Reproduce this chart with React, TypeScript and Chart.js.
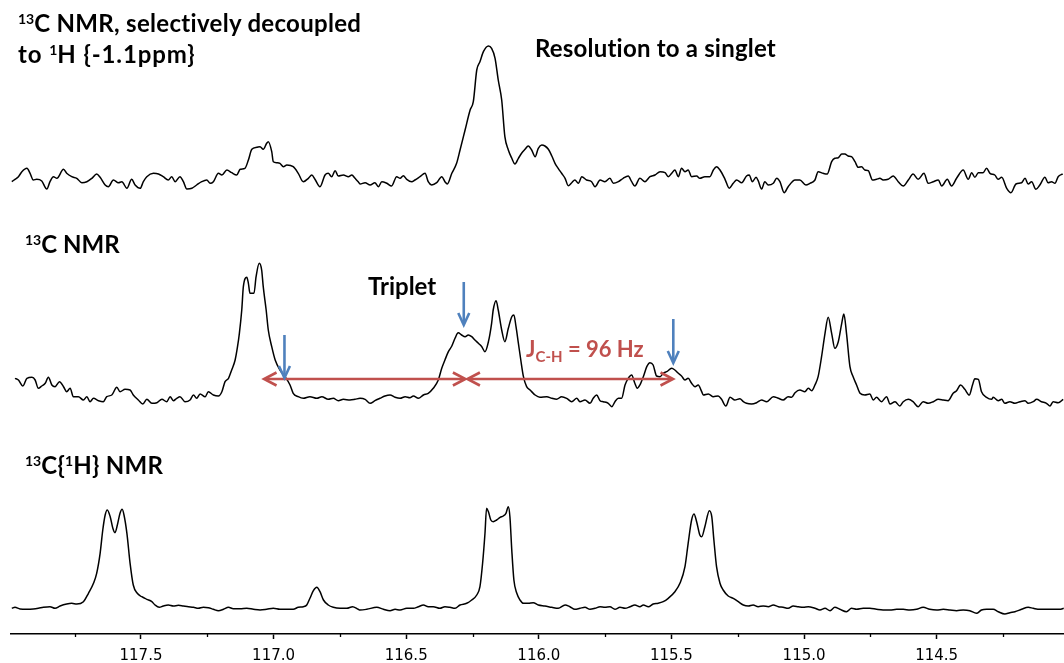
import React, { useEffect, useRef } from 'react';
import { Chart, registerables } from 'chart.js';

Chart.register(...registerables);

// ---- axis (chemical shift, ppm) ----
const X_MIN = 114.02;
const X_MAX = 117.99;
const MAJOR_TICKS = [117.5, 117.0, 116.5, 116.0, 115.5, 115.0, 114.5];
const MINOR_TICKS = [117.75, 117.25, 116.75, 116.25, 115.75, 115.25, 114.75, 114.25];

// ---- spectra: [ppm, intensity a.u.] ----
const SELECTIVE_DECOUPLED: number[][] = [
  [117.987,0.3],[117.975,2.7],[117.962,5.3],[117.949,10.3],[117.930,13.7],[117.918,8.7],[117.906,2],[117.893,2.7],[117.874,1],[117.855,-7],[117.843,0.3],[117.830,5.3],[117.817,3.7],[117.792,12.7],[117.780,8.7],[117.761,5.3],[117.742,3.7],[117.723,-0.7],[117.704,0.3],[117.685,3.7],[117.667,8],[117.654,4.7],[117.635,-3],[117.623,-4.7],[117.604,2],[117.585,-0.7],[117.572,0.3],[117.553,-6.3],[117.535,2.7],[117.522,-3],[117.503,-6.3],[117.491,0.3],[117.478,5.3],[117.453,8.7],[117.434,8],[117.416,5.3],[117.397,2],[117.384,5.3],[117.371,0.3],[117.353,5.3],[117.340,0.3],[117.327,-7],[117.308,-6.3],[117.290,-3],[117.271,0.3],[117.252,2],[117.239,-1.3],[117.227,0.3],[117.208,8.7],[117.195,7],[117.176,12],[117.158,9.3],[117.139,7],[117.126,12.7],[117.108,13.7],[117.095,22],[117.082,32.7],[117.063,34.7],[117.051,35.3],[117.039,32.7],[117.026,38.7],[117.020,40.3],[117.007,30.3],[117.001,20.3],[116.988,19.3],[116.976,18.7],[116.963,15.3],[116.950,17],[116.926,15.3],[116.907,8.7],[116.888,0.3],[116.869,3.7],[116.856,7],[116.844,2.7],[116.825,-4.7],[116.806,7],[116.794,8.7],[116.781,5.3],[116.768,11.3],[116.756,6],[116.737,7],[116.718,5.3],[116.705,7],[116.693,3.7],[116.681,0.3],
  [116.674,-2],[116.655,-0.7],[116.636,-3],[116.618,-0.7],[116.605,-4.7],[116.592,0.3],[116.573,-1.3],[116.555,-4],[116.536,5.3],[116.523,3.7],[116.511,6.3],[116.498,2.7],[116.479,0.3],[116.467,2],[116.448,5.3],[116.429,8.7],[116.417,0.3],[116.404,-3],[116.385,-0.7],[116.366,5.3],[116.354,0.3],[116.345,-2],[116.328,8.7],[116.310,18.7],[116.297,32],[116.278,52],[116.259,72],[116.247,80.3],[116.234,112],[116.222,120.3],[116.209,130.3],[116.190,136],[116.178,133.7],[116.165,123.7],[116.153,102],[116.140,82],[116.128,45.3],[116.115,32],[116.102,23.7],[116.090,18],[116.077,23.7],[116.065,28.7],[116.052,32.7],[116.040,36],[116.027,32],[116.014,25.3],[116.002,33.7],[115.989,37],[115.977,36],[115.964,32.7],[115.951,26],[115.939,18.7],[115.927,13.7],[115.914,8.7],[115.901,3.7],[115.889,-3.7],[115.876,-0.7],[115.864,2],[115.851,-1.3],[115.838,5.3],[115.820,2],[115.801,0.3],[115.788,-4.7],[115.769,2],[115.751,0.3],[115.732,3.7],[115.719,-1.3],[115.700,0.3],[115.682,3.7],[115.663,6],[115.650,0.3],[115.638,-4],[115.619,3.7],[115.600,0.3],[115.581,5.3],[115.562,7],[115.543,10.3],[115.524,9.3],[115.512,5.3],[115.499,8.7],[115.487,12],[115.474,5.3],[115.462,13.7],[115.449,10.3],[115.437,12],[115.424,5.3],[115.405,6],[115.393,3.7],[115.374,5.3],[115.355,5.3],[115.342,12],[115.330,15.3],
  [115.317,12],[115.298,2.7],[115.282,-6.3],[115.267,-1.3],[115.254,2],[115.235,-0.7],[115.217,6],[115.207,7],[115.195,0.3],[115.181,4.7],[115.173,1.3],[115.160,-7],[115.148,0.3],[115.135,-3],[115.116,-1.3],[115.103,3.7],[115.091,0.3],[115.075,-10.7],[115.060,-4.7],[115.034,2],[115.016,2],[114.993,-3],[114.978,-1.3],[114.959,2],[114.947,10.3],[114.928,8.7],[114.913,8],[114.896,20.3],[114.884,23.7],[114.871,24.3],[114.858,28],[114.846,28],[114.834,26],[114.821,25.3],[114.808,20.3],[114.796,14.7],[114.783,15.3],[114.771,12],[114.758,11.3],[114.742,2],[114.727,2.7],[114.714,3.7],[114.702,2],[114.683,2.7],[114.664,6],[114.645,0.3],[114.626,-4],[114.607,2],[114.589,8],[114.570,2.7],[114.548,8.7],[114.532,-1.3],[114.513,0.3],[114.494,2],[114.481,-4],[114.460,2.7],[114.444,-4],[114.425,3.7],[114.400,12],[114.381,2.7],[114.368,9.3],[114.356,4.7],[114.343,9.3],[114.325,9.3],[114.312,13.7],[114.299,8.7],[114.281,7],[114.268,2.7],[114.255,4.7],[114.236,-6.3],[114.220,-10.7],[114.201,-2],[114.180,-0.7],[114.167,3.7],[114.155,-2],[114.142,0.3],[114.126,-7.3],[114.111,-3],[114.092,4.7],[114.080,-0.7],[114.067,0.3],[114.054,-1.3],[114.042,5.3],[114.025,8],
];

const COUPLED: number[][] = [
  [117.975,19.7],[117.962,18],[117.945,12],[117.930,19.7],[117.911,20.7],[117.899,18],[117.887,9.7],[117.874,12],[117.861,14.7],[117.849,20.7],[117.836,13],[117.824,11.3],[117.807,16.3],[117.792,11.3],[117.780,6.3],[117.767,9.7],[117.755,1.3],[117.736,1.3],[117.717,-2],[117.704,1.3],[117.692,-3.7],[117.679,-0.3],[117.660,-2.7],[117.642,-3.7],[117.629,1.3],[117.610,3],[117.591,10.7],[117.579,6.3],[117.560,8.7],[117.541,8],[117.529,3],[117.510,-2],[117.493,-6],[117.478,-1.3],[117.459,-5.3],[117.440,-4.7],[117.421,-1.3],[117.403,-3.7],[117.390,1.3],[117.378,-2.7],[117.365,-0.3],[117.353,1.3],[117.334,-3.7],[117.315,-2],[117.302,3],[117.290,-0.3],[117.277,4],[117.258,1.3],[117.246,6.3],[117.227,3],[117.208,2],[117.195,6.3],[117.183,16.3],[117.170,19.7],[117.158,28],[117.145,38],[117.136,51.3],[117.129,64.7],[117.120,88],[117.114,111.3],[117.101,120.7],[117.095,114.7],[117.089,104.7],[117.074,104.7],[117.066,121.3],[117.054,134.7],[117.045,128],[117.039,111.3],[117.028,88],[117.020,68],[117.007,51.3],[116.994,38],[116.976,28],[116.957,21.3],[116.938,13],[116.926,4.7],[116.907,1.3],[116.888,-0.3],[116.863,1.3],[116.837,-0.3],[116.818,1.3],[116.794,-1.3],[116.775,-0.3],[116.756,-2.7],[116.737,-1.3],[116.712,-2],[116.693,-1.3],
  [116.674,-0.3],[116.655,-1.3],[116.636,-5.3],[116.618,-2.7],[116.599,-0.3],[116.580,2],[116.561,3],[116.542,0.7],[116.523,-0.3],[116.504,1.3],[116.486,0.3],[116.473,2],[116.454,-0.3],[116.435,3],[116.417,4.7],[116.398,9.7],[116.379,18],[116.366,29.7],[116.354,38],[116.341,46.3],[116.328,52],[116.316,59.7],[116.304,65.3],[116.291,63],[116.278,61.3],[116.266,63],[116.253,61.3],[116.241,58],[116.228,54.7],[116.215,51.3],[116.203,46.3],[116.190,56.3],[116.178,74.7],[116.172,88],[116.161,97.3],[116.153,88],[116.140,68],[116.128,56.3],[116.115,69.7],[116.102,81.3],[116.094,83],[116.086,71.3],[116.077,54.7],[116.068,38],[116.058,21.3],[116.046,11.3],[116.033,8],[116.014,3],[115.996,0.7],[115.970,1.3],[115.951,-0.3],[115.933,-1.3],[115.914,1.3],[115.895,-0.3],[115.876,-3.7],[115.857,-0.3],[115.845,-3.7],[115.826,-2],[115.807,-5.3],[115.795,-0.3],[115.782,3],[115.769,-2.7],[115.757,-3.7],[115.738,-5.3],[115.725,-8.7],[115.713,-3.7],[115.700,-0.3],[115.688,-0.3],[115.675,13],[115.663,19.7],[115.650,23],[115.638,14.7],[115.629,9.7],[115.619,13],[115.606,21.3],[115.593,31.3],[115.581,35.3],[115.569,33],[115.556,22],[115.543,21.3],[115.531,24.7],[115.518,26.3],[115.499,29.7],[115.487,28],[115.474,24.7],[115.462,22],[115.449,18],[115.437,19.7],[115.424,14.7],[115.411,11.3],[115.399,13],[115.386,6.3],
  [115.380,3],[115.361,4],[115.342,1.3],[115.324,2],[115.311,-1.3],[115.295,-8],[115.279,0.7],[115.261,-2],[115.242,-0.7],[115.229,-3.7],[115.217,-5.3],[115.198,-6],[115.179,-4.7],[115.160,-2],[115.141,-3.7],[115.116,1.3],[115.097,-0.3],[115.079,-2],[115.060,1.3],[115.047,0.7],[115.034,5.3],[115.016,8],[114.997,6.3],[114.984,9.7],[114.971,7.3],[114.959,13],[114.947,21.3],[114.934,41.3],[114.921,64.7],[114.909,80.7],[114.896,64.7],[114.884,49.7],[114.871,56.3],[114.858,74.7],[114.850,84],[114.840,64.7],[114.827,31.3],[114.815,21.3],[114.802,13],[114.789,4.7],[114.771,3],[114.752,4],[114.739,-2],[114.727,0.7],[114.708,-3.7],[114.689,1.3],[114.676,-6],[114.657,-3.7],[114.639,-8],[114.626,-3.7],[114.607,-1.3],[114.589,-3.7],[114.570,-8.7],[114.551,-3.7],[114.532,-5.3],[114.513,-3.7],[114.494,-1.3],[114.475,-2],[114.457,-2.7],[114.438,4.7],[114.425,7.3],[114.410,13],[114.394,8.7],[114.377,3],[114.365,13],[114.356,19.3],[114.343,18.7],[114.331,6.3],[114.312,0.7],[114.293,-1.3],[114.287,0.7],[114.268,-2.7],[114.255,-1.3],[114.243,-5.3],[114.224,-3.7],[114.205,-5.3],[114.186,-3.7],[114.167,-2.7],[114.155,-5.3],[114.136,-3.7],[114.123,-1.3],[114.105,-3.7],[114.086,-5.3],[114.073,-8],[114.061,-3.7],[114.042,-4.7],[114.023,-1.3],
];

const PROTON_DECOUPLED: number[][] = [
  [117.987,0.7],[117.975,1.7],[117.956,0],[117.930,-0.3],[117.906,0],[117.887,0.7],[117.868,1.7],[117.843,2.3],[117.824,0.7],[117.805,3],[117.780,5],[117.761,5.7],[117.742,5],[117.717,7.3],[117.698,15.7],[117.679,25.7],[117.667,35.7],[117.654,55.7],[117.644,79],[117.635,94],[117.627,99],[117.616,92.3],[117.606,80.7],[117.598,76.3],[117.589,84],[117.579,95.7],[117.571,99.7],[117.564,94],[117.553,75.7],[117.541,45.7],[117.529,24],[117.514,15.7],[117.497,12.3],[117.478,9.7],[117.459,7.3],[117.447,4],[117.431,1.7],[117.416,3],[117.397,4],[117.378,3],[117.359,3.7],[117.340,3],[117.321,2.3],[117.302,1.7],[117.284,0.7],[117.265,1.7],[117.246,1.3],[117.227,-0.3],[117.208,-1.7],[117.189,-0.3],[117.170,1.7],[117.152,0.3],[117.126,0.3],[117.101,0.7],[117.076,-0.3],[117.051,-1],[117.026,-0.3],[117.001,0.7],[116.976,-0.3],[116.950,-0.3],[116.926,-0.3],[116.907,1.7],[116.888,2.3],[116.875,4],[116.863,10.7],[116.850,18.3],[116.837,21.7],[116.825,17.3],[116.812,9],[116.794,4],[116.775,1.7],[116.749,0.7],[116.724,0.7],[116.702,2.3],[116.681,-0.3],
  [116.674,-1],[116.649,-0.3],[116.611,1.7],[116.586,-0.3],[116.561,-1.7],[116.542,-0.3],[116.523,-1],[116.498,0.7],[116.473,0.7],[116.454,2.3],[116.435,4],[116.417,2.3],[116.398,2.3],[116.373,0.7],[116.354,2.3],[116.335,1.7],[116.316,0.7],[116.297,4],[116.272,5.7],[116.253,9],[116.234,14],[116.222,22.3],[116.212,45.7],[116.203,75.7],[116.197,100.7],[116.190,97.3],[116.181,89],[116.172,87.3],[116.159,89],[116.146,91.7],[116.134,93],[116.124,95.7],[116.115,102.3],[116.109,92.3],[116.102,59],[116.094,29],[116.083,15.7],[116.071,9],[116.058,5.7],[116.040,5.7],[116.021,6.3],[116.002,4],[115.977,3],[115.951,1.7],[115.927,0.7],[115.901,4],[115.883,2.3],[115.864,-0.3],[115.845,0.7],[115.826,1.7],[115.807,-0.3],[115.788,0.7],[115.769,2.3],[115.751,1.7],[115.732,2.3],[115.713,-0.3],[115.694,1.7],[115.675,0.7],[115.656,2.3],[115.638,4],[115.619,2.3],[115.606,4],[115.587,2.3],[115.569,5],[115.550,5.7],[115.531,7.3],[115.512,10.7],[115.487,17.3],[115.468,25.7],[115.449,42.3],[115.437,65.7],[115.424,89],[115.415,95],[115.405,87.3],[115.393,74],[115.386,72.3],[115.374,82.3],[115.357,98.3],[115.348,92.3],[115.340,69],[115.330,42.3],[115.317,25.7],
  [115.305,19],[115.286,13],[115.267,10.7],[115.248,7.3],[115.229,4],[115.210,3],[115.192,4],[115.173,2.3],[115.154,3],[115.135,2.3],[115.116,4],[115.097,2.3],[115.079,1.7],[115.060,0.7],[115.041,3],[115.022,2.3],[115.003,1.7],[114.984,2.3],[114.959,0.7],[114.940,-1],[114.921,0.7],[114.902,-1.7],[114.884,1.7],[114.865,-0.3],[114.840,-2.7],[114.821,0.7],[114.802,-0.3],[114.777,0.7],[114.752,0.7],[114.727,-0.3],[114.702,-1],[114.676,-1],[114.651,-0.3],[114.626,-0.3],[114.601,-1],[114.576,-0.3],[114.551,1.7],[114.526,-0.3],[114.500,-1],[114.475,-0.3],[114.450,-1],[114.425,-1.7],[114.400,-1],[114.375,-1.7],[114.350,-4.3],[114.331,-1],[114.312,-0.3],[114.287,-0.3],[114.268,-2.7],[114.243,-5],[114.224,-3.7],[114.205,-2.7],[114.180,-0.3],[114.155,1.7],[114.136,0.7],[114.111,-0.3],[114.086,-0.3],[114.061,-0.3],[114.036,-0.3],[114.021,0.7],
];

// ---- annotations (ppm / stack units) ----
const TRIPLET_LINES = [117.036, 116.273, 115.494];
const J_LEVEL = 255;
const BLUE_ARROWS = [
  { ppm: 116.959, from: 299, to: 256 },
  { ppm: 116.283, from: 352, to: 309 },
  { ppm: 115.493, from: 315, to: 271 },
];

const Y_MAX = 634;
const OFFSETS = { top: 452, middle: 236, bottom: 25 };

const RED = '#C0504D';
const BLUE = '#4F81BD';

const annotationPlugin = {
  id: 'nmrAnnotations',
  afterDraw(chart: any) {
    const { ctx, chartArea } = chart;
    const xs = chart.scales.x;
    const ys = chart.scales.y;
    ctx.save();
    // minor ticks
    ctx.strokeStyle = '#000';
    ctx.lineWidth = 1.3;
    for (const v of MINOR_TICKS) {
      const px = Math.round(xs.getPixelForValue(v)) + 0.5;
      ctx.beginPath();
      ctx.moveTo(px, chartArea.bottom);
      ctx.lineTo(px, chartArea.bottom + 3);
      ctx.stroke();
    }
    // red double-headed arrows
    ctx.strokeStyle = RED;
    ctx.lineWidth = 2.6;
    ctx.lineJoin = 'miter';
    const yy = ys.getPixelForValue(J_LEVEL);
    const heads = (tip: number, dir: number) => {
      ctx.beginPath();
      ctx.moveTo(tip + dir * 12.5, yy - 6.5);
      ctx.lineTo(tip, yy);
      ctx.lineTo(tip + dir * 12.5, yy + 6.5);
      ctx.stroke();
    };
    for (let i = 0; i < TRIPLET_LINES.length - 1; i++) {
      const a = xs.getPixelForValue(TRIPLET_LINES[i]) + (i === 0 ? 0 : 1);
      const b = xs.getPixelForValue(TRIPLET_LINES[i + 1]) - (i === TRIPLET_LINES.length - 2 ? 0 : 1);
      ctx.beginPath();
      ctx.moveTo(a + 2, yy);
      ctx.lineTo(b - 2, yy);
      ctx.stroke();
      heads(a, 1);
      heads(b, -1);
    }
    // blue down arrows
    ctx.strokeStyle = BLUE;
    ctx.lineWidth = 2.6;
    for (const arr of BLUE_ARROWS) {
      const px = xs.getPixelForValue(arr.ppm);
      const y0 = ys.getPixelForValue(arr.from);
      const y1 = ys.getPixelForValue(arr.to);
      ctx.beginPath();
      ctx.moveTo(px, y0);
      ctx.lineTo(px, y1 - 2);
      ctx.stroke();
      ctx.beginPath();
      ctx.moveTo(px - 5.5, y1 - 12);
      ctx.lineTo(px, y1);
      ctx.lineTo(px + 5.5, y1 - 12);
      ctx.stroke();
    }
    ctx.restore();
  },
};

const LABEL_FONT = 'Lato, "Open Sans", sans-serif';

function Label(props: { left: number; baseline: number; size?: number; color?: string; spacing?: number; children: any }) {
  const size = props.size ?? 24;
  return (
    <div
      style={{
        position: 'absolute',
        left: props.left,
        top: props.baseline - size * 0.887,
        fontFamily: LABEL_FONT,
        fontWeight: 700,
        fontSize: size,
        lineHeight: `${size}px`,
        letterSpacing: props.spacing ? `${props.spacing}px` : undefined,
        color: props.color ?? '#000',
        whiteSpace: 'nowrap',
      }}
    >
      {props.children}
    </div>
  );
}

const Sup = ({ children }: { children: any }) => (
  <span style={{ fontSize: 14, position: 'relative', top: -8, letterSpacing: 0 }}>{children}</span>
);
const Sub = ({ children }: { children: any }) => (
  <span style={{ fontSize: 15, position: 'relative', top: 5 }}>{children}</span>
);

export default function App() {
  const ref = useRef<HTMLCanvasElement>(null);
  useEffect(() => {
    if (!ref.current) return;
    const mk = (data: number[][], off: number) => ({
      data: data.map(([x, y]) => ({ x, y: y + off })),
      borderColor: '#000',
      borderWidth: 1.5,
      pointRadius: 0,
      fill: false,
      cubicInterpolationMode: 'monotone' as const,
    });
    const chart = new Chart(ref.current, {
      type: 'line',
      data: {
        datasets: [
          mk(SELECTIVE_DECOUPLED, OFFSETS.top),
          mk(COUPLED, OFFSETS.middle),
          mk(PROTON_DECOUPLED, OFFSETS.bottom),
        ],
      },
      options: {
        animation: false,
        responsive: false,
        maintainAspectRatio: false,
        layout: { padding: { left: 11, right: 0, top: 0, bottom: 0 } },
        plugins: { legend: { display: false }, tooltip: { enabled: false } },
        scales: {
          x: {
            type: 'linear',
            reverse: true,
            min: X_MIN,
            max: X_MAX,
            afterBuildTicks: (scale: any) => {
              scale.ticks = MAJOR_TICKS.slice().sort((a, b) => a - b).map((v) => ({ value: v }));
            },
            ticks: {
              autoSkip: false,
              maxRotation: 0,
              padding: 8,
              color: '#000',
              font: { family: '"DejaVu Sans", Verdana, sans-serif', size: 15 },
              callback: (v: any) => Number(v).toFixed(1),
            },
            grid: {
              display: true,
              drawOnChartArea: false,
              drawTicks: true,
              tickLength: 5,
              tickColor: '#000',
              tickWidth: 1.5,
            },
            border: { display: true, color: '#000', width: 1.5 },
          },
          y: { display: false, min: 0, max: Y_MAX },
        },
      },
      plugins: [annotationPlugin],
    });
    return () => chart.destroy();
  }, []);

  return (
    <div style={{ position: 'absolute', left: 0, top: 0, width: 1064, height: 663, background: '#fff', overflow: 'hidden' }}>
      <canvas ref={ref} width={1064} height={673} style={{ position: 'absolute', left: 0, top: 0 }} />
      <Label left={18} baseline={32} spacing={0.3}>
        <Sup>13</Sup>C NMR, selectively decoupled
      </Label>
      <Label left={18} baseline={63} spacing={0.9}>
        to <Sup>1</Sup>H {'{-1.1ppm}'}
      </Label>
      <Label left={535} baseline={57} spacing={0.2}>Resolution to a singlet</Label>
      <Label left={25} baseline={253}>
        <Sup>13</Sup>C NMR
      </Label>
      <Label left={368} baseline={295}>Triplet</Label>
      <Label left={526} baseline={358} size={22} color={RED}>
        J<Sub>C-H</Sub> = 96 Hz
      </Label>
      <Label left={25} baseline={474} spacing={0.3}>
        <Sup>13</Sup>C{'{'}<Sup>1</Sup>H{'}'} NMR
      </Label>
    </div>
  );
}
